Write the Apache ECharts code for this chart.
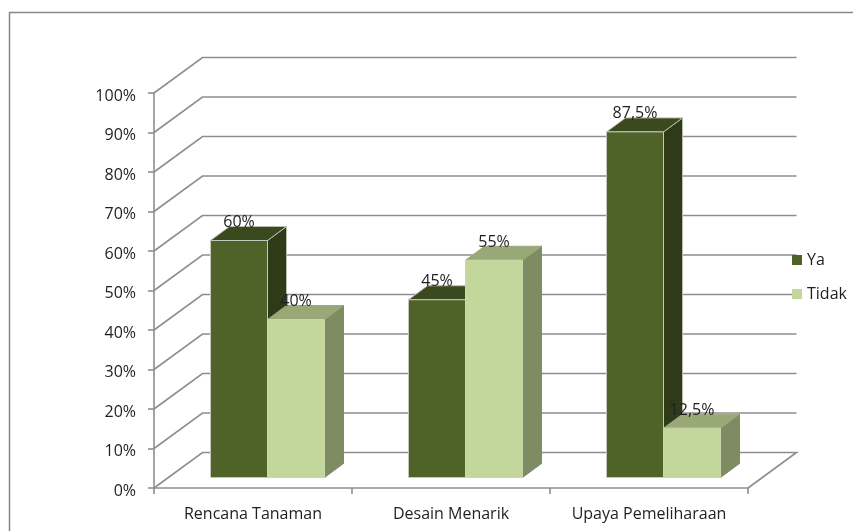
<!DOCTYPE html>
<html><head><meta charset="utf-8">
<script src="https://cdn.jsdelivr.net/npm/echarts@6/dist/echarts.min.js"></script>
<style>html,body{margin:0;padding:0;background:#fff}#c{width:853px;height:531px}</style>
</head><body><div id="c"></div>
<script>
var categories = ['Rencana Tanaman', 'Desain Menarik', 'Upaya Pemeliharaan'];
var ya = [60, 45, 87.5];
var tidak = [40, 55, 12.5];
var yTicks = [0, 10, 20, 30, 40, 50, 60, 70, 80, 90, 100];

var FONT = '"Open Sans"';
var TEXT = '#1f1f1f';
var WALL = [48.5, -35.5];    // depth of the floor
var BASE = [14.5, -10.5];    // where the bars stand on the floor
var DEPTH = [19, -14];       // depth of a bar
var BAR_RATIO = 57 / 198;    // bar width per category band
var GRID_COLOR = '#8E8E8E';

function wallRender(params, api) {
  var cs = params.coordSys, v = api.value(1);
  var y = api.coord([0, v])[1];
  var l = cs.x, r = cs.x + cs.width;
  var pts = [[l, y], [l + WALL[0], y + WALL[1]], [r + WALL[0], y + WALL[1]]];
  if (v === 0) pts.push([r, y]);
  return {type: 'polyline', shape: {points: pts}, style: {fill: null, stroke: GRID_COLOR, lineWidth: 1.6}, silent: true};
}

function barRender(side, front, top, flank, edge, shellEdge) {
  return function (params, api) {
    var c = api.coord([api.value(0), api.value(1)]);
    var z = api.coord([api.value(0), 0]);
    var w = api.size([1, 0])[0] * BAR_RATIO;
    var x0 = c[0] + BASE[0] + (side < 0 ? -w : 0), x1 = x0 + w;
    var yt = c[1] + BASE[1], yb = z[1] + BASE[1];
    var dx = DEPTH[0], dy = DEPTH[1];
    function poly(pts, fill, s) {
      return {type: 'polygon', shape: {points: pts}, style: {fill: fill, stroke: s, lineWidth: 1}};
    }
    var val = api.value(1);
    return {type: 'group', children: [
      poly([[x1, yt], [x1 + dx, yt + dy], [x1 + dx, yb + dy], [x1, yb]], flank, shellEdge || flank),
      poly([[x0, yt], [x0 + dx, yt + dy], [x1 + dx, yt + dy], [x1, yt]], top, shellEdge || top),
      poly([[x0, yt], [x1, yt], [x1, yb], [x0, yb]], front, edge),
      {type: 'text', z2: 20, style: {
        text: String(val).replace('.', ',') + '%', x: (x0 + x1) / 2, y: yt - 18,
        align: 'center', verticalAlign: 'middle', font: '16px ' + FONT, fill: TEXT}}
    ]};
  };
}

var chart = echarts.init(document.getElementById('c'), null, {renderer: 'canvas'});
chart.setOption({
  animation: false,
  backgroundColor: '#fff',
  graphic: [{type: 'rect', silent: true, z: -1,
    shape: {x: 9.5, y: 12.5, width: 900, height: 600},
    style: {fill: 'transparent', stroke: '#868686', lineWidth: 1.5}}],
  grid: {left: 154, right: 105, top: 93, height: 395, containLabel: false},
  legend: {
    data: ['Ya', 'Tidak'], orient: 'vertical', left: 792, top: 252, padding: 0,
    itemWidth: 10, itemHeight: 10, itemGap: 18, icon: 'rect',
    textStyle: {fontFamily: FONT, fontSize: 16, color: TEXT}
  },
  xAxis: {
    type: 'category', data: categories,
    axisLine: {lineStyle: {color: GRID_COLOR, width: 1.6}},
    axisTick: {show: true, length: 6, lineStyle: {color: GRID_COLOR, width: 1.6}},
    axisLabel: {fontFamily: FONT, fontSize: 16, color: TEXT, margin: 18, interval: 0},
    splitLine: {show: false}
  },
  yAxis: {
    type: 'value', min: 0, max: 100, interval: 10,
    axisLine: {show: true, lineStyle: {color: GRID_COLOR, width: 1.6}},
    axisTick: {show: true, length: 6, lineStyle: {color: GRID_COLOR, width: 1.6}},
    axisLabel: {fontFamily: FONT, fontSize: 16, color: TEXT, margin: 18, verticalAlign: 'top', padding: [-5, 0, 0, 0], formatter: '{value}%'},
    splitLine: {show: false}
  },
  series: [
    {type: 'custom', name: 'wall', silent: true, z: 1, renderItem: wallRender,
      data: yTicks.map(function (v) { return [0, v]; }), encode: {x: 0, y: 1}},
    {type: 'custom', name: 'Ya', z: 2, itemStyle: {color: '#4F6228'},
      renderItem: barRender(-1, '#4F6228', '#3B4A1E', '#2F3B18', '#C4C9BC', '#B8BDAE'),
      data: ya.map(function (v, i) { return [i, v]; }), encode: {x: 0, y: 1}},
    {type: 'custom', name: 'Tidak', z: 2, itemStyle: {color: '#C3D69B'},
      renderItem: barRender(1, '#C3D69B', '#98A877', '#7F8B63', '#C9D8A8'),
      data: tidak.map(function (v, i) { return [i, v]; }), encode: {x: 0, y: 1}}
  ]
});
</script></body></html>
